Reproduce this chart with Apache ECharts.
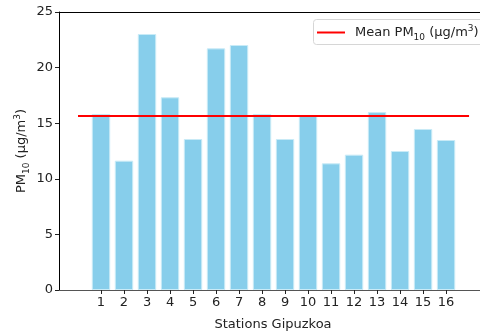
<!DOCTYPE html>
<html>
<head>
<meta charset="utf-8">
<script src="https://cdn.jsdelivr.net/npm/echarts@6/dist/echarts.min.js"></script>
<style>
  html, body { margin: 0; padding: 0; background: #fff; }
  #chart { width: 480px; height: 336px; }
</style>
</head>
<body>
<div id="chart"></div>
<script>
// Station numbers along the x axis
const stations = [1, 2, 3, 4, 5, 6, 7, 8, 9, 10, 11, 12, 13, 14, 15, 16];
// Mean PM10 concentration at each station (µg/m³)
const pm10Values = [15.83, 11.63, 23.02, 17.33, 13.58, 21.73, 22.03, 15.83,
                    13.58, 15.65, 11.39, 12.17, 16.0, 12.5, 14.48, 13.49];
// Overall mean across the stations (µg/m³)
const meanPm10 = 15.64;
// Span of the mean reference line along the x axis
const meanSpan = [0, 17];
// Y axis ticks
const yTicks = [0, 5, 10, 15, 20, 25];

const FONT = 'DejaVu Sans';
const X_MIN = -0.826, X_MAX = 17.78;

const chart = echarts.init(document.getElementById('chart'), null, { renderer: 'canvas' });

const subSup = {
  sub: { fontFamily: FONT, fontSize: 9, verticalAlign: 'bottom', padding: [0, 0, -3, 0], color: '#222' },
  sup: { fontFamily: FONT, fontSize: 9, verticalAlign: 'top', padding: [-2, 0, 0, 0], color: '#222' }
};

chart.setOption({
  animation: false,
  grid: { left: 59, right: -7, top: 12, bottom: 46, containLabel: false, outerBoundsMode: 'none' },
  // Legend frame runs past the right edge of the canvas
  graphic: [{
    type: 'rect', z: 90,
    shape: { x: 313.5, y: 19.5, width: 200, height: 25, r: 3 },
    style: { fill: '#fff', stroke: '#d6d6d6', lineWidth: 1 }
  }],
  legend: {
    data: ['mean'],
    left: 313, top: 19,
    orient: 'vertical',
    z: 100,
    padding: [5, 4, 5, 4],
    itemWidth: 28, itemHeight: 2, itemGap: 0,
    icon: 'rect',
    formatter: () => 'Mean PM{sub|10} (µg/m{sup|3})',
    textStyle: {
      fontFamily: FONT, fontSize: 13, color: '#222', padding: [0, 0, 0, 5],
      rich: subSup
    }
  },
  xAxis: [{
    type: 'value',
    min: X_MIN, max: X_MAX,
    name: 'Stations Gipuzkoa',
    nameLocation: 'middle', nameGap: 28, nameMoveOverlap: false,
    nameTextStyle: { fontFamily: FONT, fontSize: 13, color: '#222' },
    splitLine: { show: false },
    axisLine: { show: true, onZero: false, lineStyle: { color: '#555', width: 1.2 } },
    axisTick: { show: true, customValues: stations, length: 4, lineStyle: { color: '#222' } },
    axisLabel: { customValues: stations, fontFamily: FONT, fontSize: 13, color: '#222', margin: 6 }
  }, {
    type: 'value', position: 'top',
    min: X_MIN, max: X_MAX,
    splitLine: { show: false },
    axisLine: { show: true, onZero: false, lineStyle: { color: '#000', width: 1 } },
    axisTick: { show: false }, axisLabel: { show: false }
  }],
  yAxis: {
    type: 'value',
    min: 0, max: 25, interval: 5,
    name: '{n|PM}{sub|10}{n| (µg/m}{sup|3}{n|)}',
    nameLocation: 'middle', nameGap: 31, nameRotate: 90, nameMoveOverlap: false,
    nameTextStyle: {
      fontFamily: FONT, fontSize: 13, color: '#222',
      rich: Object.assign({ n: { fontFamily: FONT, fontSize: 13, color: '#222' } }, subSup)
    },
    splitLine: { show: false },
    axisLine: { show: true, onZero: false, lineStyle: { color: '#000', width: 1 } },
    axisTick: { show: true, length: 4, lineStyle: { color: '#222' } },
    axisLabel: { fontFamily: FONT, fontSize: 13, color: '#222', margin: 6,
      customValues: yTicks }
  },
  series: [{
    name: 'stations',
    type: 'bar',
    barWidth: 18.4,
    itemStyle: { color: '#87ceeb', borderColor: '#c9ebf7', borderWidth: 1 },
    data: stations.map((s, i) => [s, pm10Values[i]]),
    z: 2
  }, {
    name: 'mean',
    type: 'line',
    symbol: 'none',
    lineStyle: { color: '#ff0000', width: 2 },
    itemStyle: { color: '#ff0000' },
    data: meanSpan.map(x => [x, meanPm10]),
    z: 3
  }]
});
</script>
</body>
</html>
